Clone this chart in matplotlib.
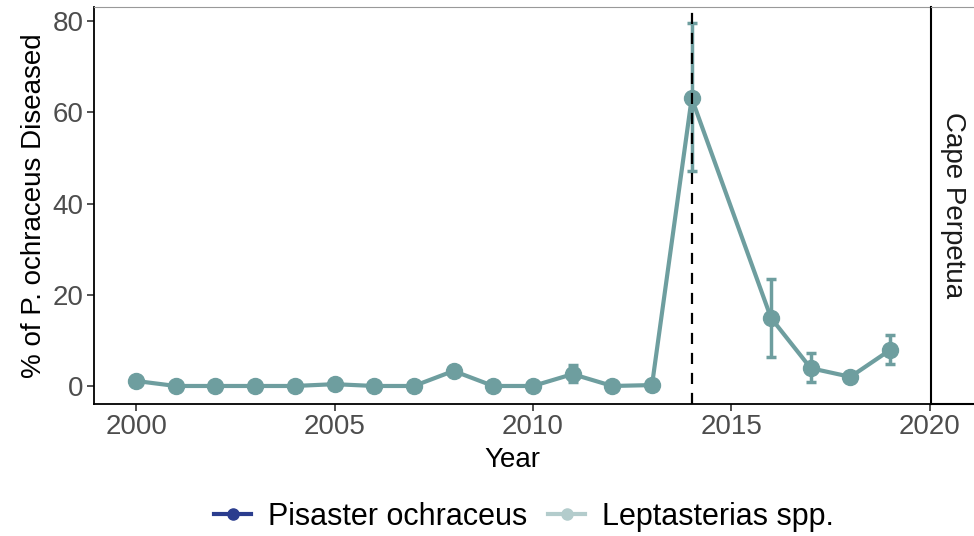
import numpy as np
import matplotlib
matplotlib.use("Agg")
import matplotlib.pyplot as plt
from matplotlib.lines import Line2D

plt.rcParams['font.family'] = ['Liberation Sans', 'DejaVu Sans']

years = [2000, 2001, 2002, 2003, 2004, 2005, 2006, 2007, 2008, 2009,
         2010, 2011, 2012, 2013, 2014, 2016, 2017, 2018, 2019]
pct = [1.1, 0.0, 0.0, 0.0, 0.0, 0.4, 0.0, 0.0, 3.3, 0.0,
       0.0, 2.6, 0.0, 0.2, 63.1, 14.9, 3.9, 2.0, 7.9]
err_hi = [1.1, 0.0, 0.0, 0.0, 0.0, 0.4, 0.0, 0.0, 3.3, 0.0,
          0.0, 4.5, 0.0, 0.2, 79.6, 23.5, 7.2, 2.0, 11.2]
err_lo = [1.1, 0.0, 0.0, 0.0, 0.0, 0.4, 0.0, 0.0, 3.3, 0.0,
          0.0, 0.8, 0.0, 0.2, 47.1, 6.4, 0.9, 2.0, 4.8]
event_year = 2014
site = "Cape Perpetua"
species = ["Pisaster ochraceus", "Leptasterias spp."]
species_colors = ["#2b3d8e", "#b3cccc"]
line_col = "#6e9e9f"

W, H = 974, 536
fig = plt.figure(figsize=(W / 100, H / 100), dpi=100)
L, R, T, B = 94, 931, 7, 404
ax = fig.add_axes([L / W, (H - B) / H, (R - L) / W, (B - T) / H])

y = np.array(pct)
yerr = [y - np.array(err_lo), np.array(err_hi) - y]
ax.errorbar(years, y, yerr=yerr, color=line_col, lw=3, marker='o', ms=11.5,
            elinewidth=2.5, capsize=3.5, capthick=2.5, zorder=3)
ax.axvline(event_year, color='black', lw=1.6, ls=(0, (5, 4)), zorder=4)

ax.set_xlim(1998.94, 2020.03)
ax.set_ylim(-3.95, 83.1)
ax.set_xticks([2000, 2005, 2010, 2015, 2020])
ax.set_yticks([0, 20, 40, 60, 80])
ax.tick_params(labelsize=20, labelcolor='#4d4d4d', length=5, width=1.2,
               color='#333333', pad=2.5)
for s in ['left', 'bottom']:
    ax.spines[s].set_linewidth(1.3)
ax.spines['right'].set_visible(False)
ax.spines['top'].set_color('#999999')
ax.spines['top'].set_linewidth(0.8)
ax.set_xlabel("Year", fontsize=20, labelpad=5)
ax.set_ylabel("% of P. ochraceus Diseased", fontsize=20, labelpad=4)

# facet strip on the right, partly cut off by the figure edge
sax = fig.add_axes([R / W, (H - B) / H, 60 / W, (B - T) / H])
sax.set_xticks([])
sax.set_yticks([])
for s in ['left', 'bottom', 'right']:
    sax.spines[s].set_linewidth(1.5)
sax.spines['top'].set_color('#999999')
sax.spines['top'].set_linewidth(0.8)
sax.text(22 / 60, 0.5, site, rotation=-90, ha='center', va='center',
         fontsize=20, color='#1a1a1a', transform=sax.transAxes)

handles = [Line2D([0], [0], color=c, lw=3, marker='o', ms=8) for c in species_colors]
fig.legend(handles, species, loc='center', bbox_to_anchor=(524 / W, 1 - 517 / H),
           ncol=2, frameon=False, fontsize=22, handlelength=1.2,
           handletextpad=0.55, columnspacing=0.7, borderpad=0)

fig.savefig("out.png", dpi=100)
